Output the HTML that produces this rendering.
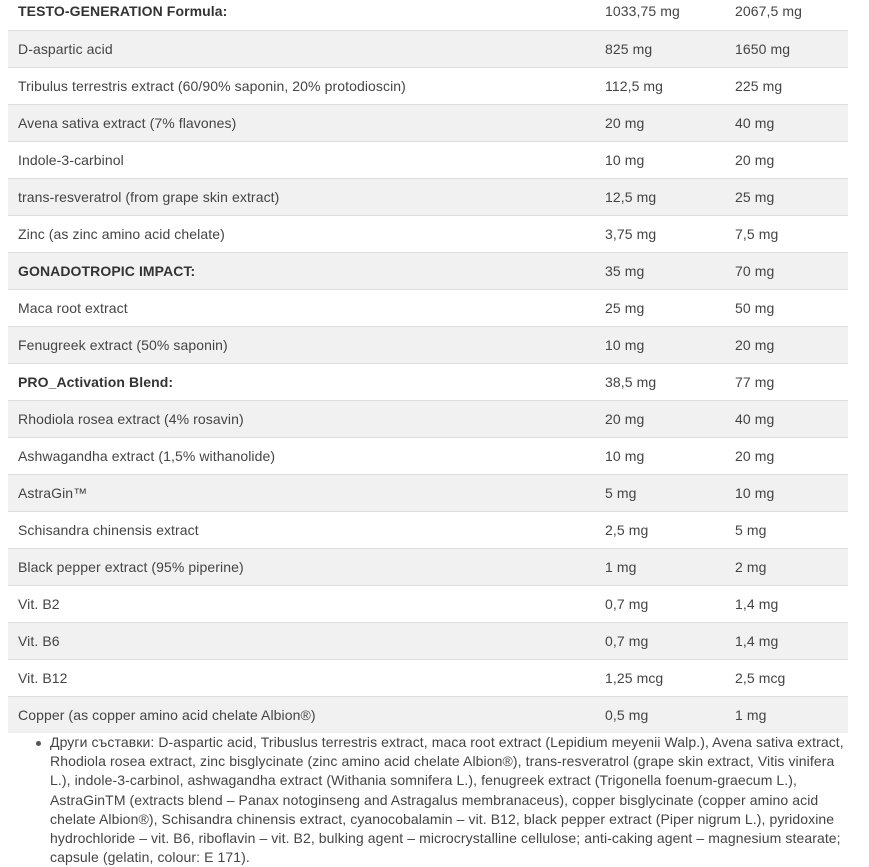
<!DOCTYPE html>
<html>
<head>
<meta charset="utf-8">
<style>
html,body{margin:0;padding:0;background:#fff;}
body{width:869px;height:861px;overflow:hidden;position:relative;font-family:"Liberation Sans",Arial,sans-serif;font-size:14px;color:#444;letter-spacing:0.09px;}
.row{position:absolute;left:8px;width:840px;height:36px;border-top:1px solid #ddd;}
.g{background:#f1f1f1;}
.c{position:absolute;top:0;line-height:36px;white-space:nowrap;}
.c1{left:10px;}
.c2{left:597px;}
.c3{left:727px;}
.b{font-weight:bold;color:#333;}
.list{position:absolute;left:50px;top:733px;line-height:19.2px;white-space:nowrap;color:#444;}
.dot{position:absolute;left:36px;top:741px;width:5px;height:5px;border-radius:50%;background:#555;}
</style>
</head>
<body>
<div class="row" style="top:-7px;border-top:none;height:37px;"><span class="c c1 b" style="line-height:37px">TESTO-GENERATION Formula:</span><span class="c c2" style="line-height:37px">1033,75 mg</span><span class="c c3" style="line-height:37px">2067,5 mg</span></div>
<div class="row g" style="top:30px"><span class="c c1">D-aspartic acid</span><span class="c c2">825 mg</span><span class="c c3">1650 mg</span></div>
<div class="row" style="top:67px"><span class="c c1">Tribulus terrestris extract (60/90% saponin, 20% protodioscin)</span><span class="c c2">112,5 mg</span><span class="c c3">225 mg</span></div>
<div class="row g" style="top:104px"><span class="c c1">Avena sativa extract (7% flavones)</span><span class="c c2">20 mg</span><span class="c c3">40 mg</span></div>
<div class="row" style="top:141px"><span class="c c1">Indole-3-carbinol</span><span class="c c2">10 mg</span><span class="c c3">20 mg</span></div>
<div class="row g" style="top:178px"><span class="c c1">trans-resveratrol (from grape skin extract)</span><span class="c c2">12,5 mg</span><span class="c c3">25 mg</span></div>
<div class="row" style="top:215px"><span class="c c1">Zinc (as zinc amino acid chelate)</span><span class="c c2">3,75 mg</span><span class="c c3">7,5 mg</span></div>
<div class="row g" style="top:252px"><span class="c c1 b">GONADOTROPIC IMPACT:</span><span class="c c2">35 mg</span><span class="c c3">70 mg</span></div>
<div class="row" style="top:289px"><span class="c c1">Maca root extract</span><span class="c c2">25 mg</span><span class="c c3">50 mg</span></div>
<div class="row g" style="top:326px"><span class="c c1">Fenugreek extract (50% saponin)</span><span class="c c2">10 mg</span><span class="c c3">20 mg</span></div>
<div class="row" style="top:363px"><span class="c c1 b">PRO_Activation Blend:</span><span class="c c2">38,5 mg</span><span class="c c3">77 mg</span></div>
<div class="row g" style="top:400px"><span class="c c1">Rhodiola rosea extract (4% rosavin)</span><span class="c c2">20 mg</span><span class="c c3">40 mg</span></div>
<div class="row" style="top:437px"><span class="c c1">Ashwagandha extract (1,5% withanolide)</span><span class="c c2">10 mg</span><span class="c c3">20 mg</span></div>
<div class="row g" style="top:474px"><span class="c c1">AstraGin™</span><span class="c c2">5 mg</span><span class="c c3">10 mg</span></div>
<div class="row" style="top:511px"><span class="c c1">Schisandra chinensis extract</span><span class="c c2">2,5 mg</span><span class="c c3">5 mg</span></div>
<div class="row g" style="top:548px"><span class="c c1">Black pepper extract (95% piperine)</span><span class="c c2">1 mg</span><span class="c c3">2 mg</span></div>
<div class="row" style="top:585px"><span class="c c1">Vit. B2</span><span class="c c2">0,7 mg</span><span class="c c3">1,4 mg</span></div>
<div class="row g" style="top:622px"><span class="c c1">Vit. B6</span><span class="c c2">0,7 mg</span><span class="c c3">1,4 mg</span></div>
<div class="row" style="top:659px"><span class="c c1">Vit. B12</span><span class="c c2">1,25 mcg</span><span class="c c3">2,5 mcg</span></div>
<div class="row g" style="top:696px"><span class="c c1">Copper (as copper amino acid chelate Albion®)</span><span class="c c2">0,5 mg</span><span class="c c3">1 mg</span></div>

<div class="dot"></div>
<div class="list">
Други съставки: D-aspartic acid, Tribuslus terrestris extract, maca root extract (Lepidium meyenii Walp.), Avena sativa extract,<br>
Rhodiola rosea extract, zinc bisglycinate (zinc amino acid chelate Albion®), trans-resveratrol (grape skin extract, Vitis vinifera<br>
L.), indole-3-carbinol, ashwagandha extract (Withania somnifera L.), fenugreek extract (Trigonella foenum-graecum L.),<br>
AstraGinTM (extracts blend – Panax notoginseng and Astragalus membranaceus), copper bisglycinate (copper amino acid<br>
chelate Albion®), Schisandra chinensis extract, cyanocobalamin – vit. B12, black pepper extract (Piper nigrum L.), pyridoxine<br>
hydrochloride – vit. B6, riboflavin – vit. B2, bulking agent – microcrystalline cellulose; anti-caking agent – magnesium stearate;<br>
capsule (gelatin, colour: E 171).
</div>
</body>
</html>
